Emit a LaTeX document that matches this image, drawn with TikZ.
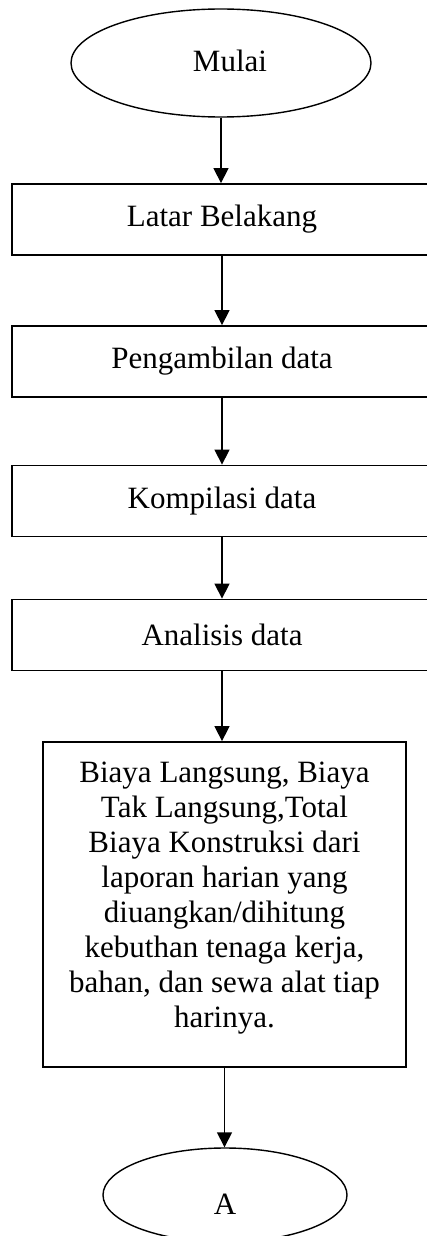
\documentclass[tikz,border=0pt]{standalone}
\usepackage{fontspec}
\setmainfont{Liberation Serif}
\usetikzlibrary{arrows.meta,shapes.geometric}
\begin{document}
\begin{tikzpicture}[x=1pt,y=-1pt,
  txt/.style={inner sep=0pt,font=\fontsize{31}{35}\selectfont},
  stepbox/.style={draw,line width=1.8pt,minimum width=420pt,minimum height=71pt,inner sep=0pt,font=\fontsize{31}{35}\selectfont},
  term/.style={draw,ellipse,line width=1.4pt,inner sep=0pt},
  flow/.style={-{Triangle[length=15pt,width=15pt]},line width=1.4pt}]
\useasboundingbox (0,0) rectangle (427,1236);

% start terminal
\node[term,minimum width=300pt,minimum height=108pt] (start) at (221,63) {};
\node[txt] (starttxt) at (230,61) {Mulai};

% process steps
\node[stepbox] (latar) at (222,219.5) {Latar Belakang};
\node[stepbox] (ambil) at (222,361.5) {Pengambilan data};
\node[stepbox] (kompil) at (222,501) {Kompilasi data};
\node[stepbox] (analisis) at (222,635) {Analisis data};

% result box
\node[draw,line width=1.8pt,minimum width=363pt,minimum height=325pt,inner sep=0pt] (hasil) at (224.5,904.5) {};
\node[txt,anchor=north,align=center] (hasiltxt) at (224.5,762)
  {Biaya Langsung, Biaya\\Tak Langsung,Total\\Biaya Konstruksi dari\\laporan harian yang\\diuangkan/dihitung\\kebuthan tenaga kerja,\\bahan, dan sewa alat tiap\\harinya.};

% connector terminal
\node[term,minimum width=244pt,minimum height=94pt] (lanjut) at (225,1195) {};
\node[txt] (lanjuttxt) at (225,1204) {A};

% flow lines
\draw[flow] (start.south) -- (start.south |- latar.north);
\draw[flow] (latar.south) -- (ambil.north);
\draw[flow] (ambil.south) -- (kompil.north);
\draw[flow] (kompil.south) -- (analisis.north);
\draw[flow] (analisis.south) -- (analisis.south |- hasil.north);
\draw[flow] (hasil.south) -- (hasil.south |- lanjut.north);
\end{tikzpicture}
\end{document}
